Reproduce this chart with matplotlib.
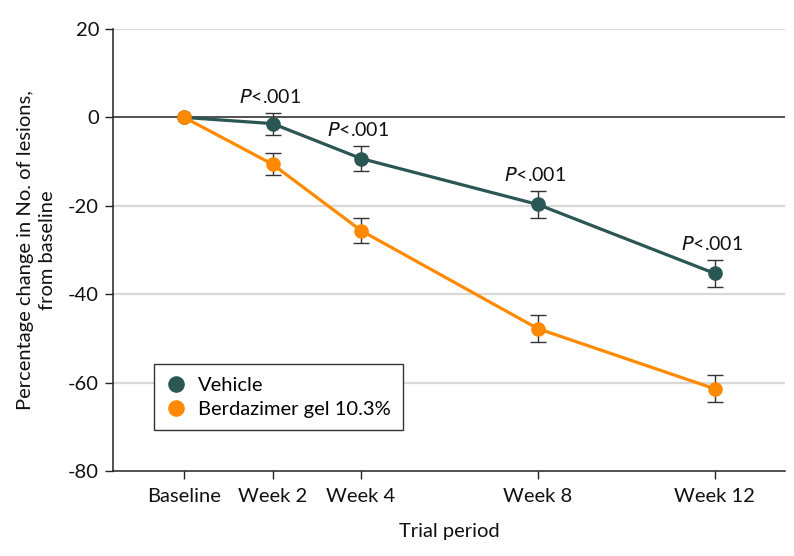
import numpy as np
import matplotlib.pyplot as plt

plt.rcParams['font.family'] = ['Lato', 'DejaVu Sans']

# trial period in weeks and labels
weeks = [0, 2, 4, 8, 12]
week_labels = ["Baseline", "Week 2", "Week 4", "Week 8", "Week 12"]

# percentage change from baseline (mean) and error half-width
vehicle = [0, -1.4, -9.3, -19.7, -35.3]
vehicle_err = [0, 2.5, 2.8, 3.0, 3.1]
berdazimer = [0, -10.6, -25.6, -47.8, -61.4]
berdazimer_err = [0, 2.5, 2.85, 3.05, 3.05]
p_labels = ["", "$\\it{P}$<.001", "$\\it{P}$<.001", "$\\it{P}$<.001", "$\\it{P}$<.001"]

c_vehicle = "#2a5753"
c_berd = "#ff8a00"
fs = 14.5

fig = plt.figure(figsize=(7.94, 5.56), dpi=100)
ax = fig.add_axes([0.1423, 0.1529, 0.8464, 0.7949])

ax.set_xlim(-1.61, 13.59)
ax.set_ylim(-80, 20)

# grid
for yv in [20, -20, -40, -60]:
    ax.axhline(yv, color="#d9d9d9", lw=1.6, zorder=0)
ax.axhline(0, color="#222222", lw=1.1, zorder=1)

x = np.array(weeks)
for vals, errs, col, lab in [(vehicle, vehicle_err, c_vehicle, "Vehicle"),
                             (berdazimer, berdazimer_err, c_berd, "Berdazimer gel 10.3%")]:
    vals = np.array(vals)
    errs = np.array(errs)
    ax.errorbar(x[1:], vals[1:], yerr=errs[1:], fmt="none", ecolor="#333333",
                elinewidth=1.0, capsize=6, capthick=1.0, zorder=2)
    ax.plot(x, vals, color=col, lw=2.3, marker="o", ms=9.5, mec=col, mfc=col,
            zorder=3, label=lab)

# P value annotations above vehicle error bars
for xi, v, e, t in zip(weeks, vehicle, vehicle_err, p_labels):
    if t:
        ax.annotate(t, (xi, v + e), xytext=(-2, 5), textcoords="offset points",
                    ha="center", va="bottom", fontsize=14, color="#111111")

ax.set_xticks(weeks)
ax.set_xticklabels(week_labels)
ax.set_yticks([20, 0, -20, -40, -60, -80])
ax.set_yticklabels(["20", "0", "-20", "-40", "-60", "-80"])
ax.tick_params(axis="both", labelsize=fs, length=6, width=1.0, color="#222222",
               labelcolor="#111111", direction="out")
ax.tick_params(axis="x", pad=6)
ax.tick_params(axis="y", pad=4)

for s in ["top", "right"]:
    ax.spines[s].set_visible(False)
for s in ["left", "bottom"]:
    ax.spines[s].set_color("#222222")
    ax.spines[s].set_linewidth(1.1)

ax.set_xlabel("Trial period", fontsize=fs, labelpad=13, color="#111111")
ax.set_ylabel("Percentage change in No. of lesions,\nfrom baseline", fontsize=fs,
              labelpad=9, color="#111111", linespacing=1.3)

leg = ax.legend(loc="lower left", bbox_to_anchor=(0.061, 0.093), fontsize=fs,
                frameon=True, fancybox=False, edgecolor="#333333", framealpha=1,
                handlelength=1.0, handletextpad=0.6, borderpad=0.6,
                labelspacing=0.35, borderaxespad=0, markerscale=1.15)
leg.get_frame().set_linewidth(1.0)
for h in leg.legend_handles:
    h.set_linestyle("none")

fig.savefig("out.png", dpi=100)
